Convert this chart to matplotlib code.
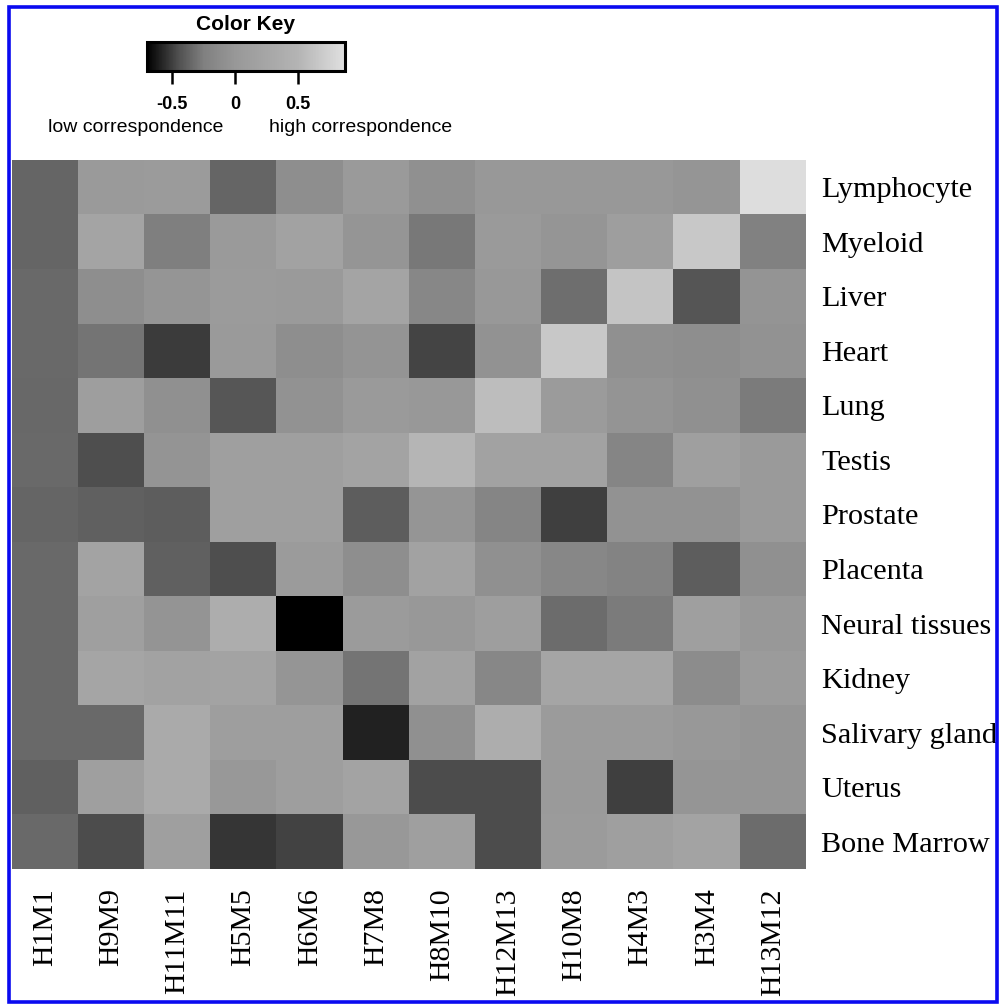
import numpy as np
import matplotlib
matplotlib.use("Agg")
import matplotlib.pyplot as plt
from matplotlib.colors import LinearSegmentedColormap, Normalize
from matplotlib.cm import ScalarMappable
from matplotlib.patches import Rectangle

tissues = ["Lymphocyte", "Myeloid", "Liver", "Heart", "Lung", "Testis", "Prostate",
           "Placenta", "Neural tissues", "Kidney", "Salivary gland", "Uterus", "Bone Marrow"]
modules = ["H1M1", "H9M9", "H11M11", "H5M5", "H6M6", "H7M8", "H8M10",
           "H12M13", "H10M8", "H4M3", "H3M4", "H13M12"]

lymphocyte = [-0.36, 0.04, 0.07, -0.36, -0.10, 0.04, -0.08, 0.00, 0.00, 0.00, -0.02, 0.84]
myeloid    = [-0.36, 0.23, -0.25, 0.04, 0.18, -0.03, -0.28, 0.04, -0.03, 0.11, 0.67, -0.23]
liver      = [-0.34, -0.10, -0.03, 0.07, 0.04, 0.23, -0.17, 0.00, -0.32, 0.64, -0.43, -0.04]
heart      = [-0.34, -0.30, -0.51, 0.04, -0.10, -0.04, -0.48, -0.06, 0.67, -0.08, -0.10, -0.06]
lung       = [-0.35, 0.11, -0.08, -0.42, -0.06, 0.04, 0.00, 0.58, 0.07, -0.04, -0.08, -0.27]
testis     = [-0.34, -0.45, -0.04, 0.14, 0.14, 0.21, 0.51, 0.18, 0.18, -0.19, 0.14, 0.04]
prostate   = [-0.36, -0.38, -0.39, 0.14, 0.14, -0.39, -0.02, -0.19, -0.50, -0.06, -0.06, 0.04]
placenta   = [-0.34, 0.21, -0.38, -0.45, 0.07, -0.10, 0.18, -0.08, -0.17, -0.21, -0.39, -0.08]
neural     = [-0.34, 0.14, -0.04, 0.39, -0.70, 0.07, 0.00, 0.11, -0.33, -0.27, 0.14, 0.00]
kidney     = [-0.34, 0.25, 0.18, 0.21, -0.02, -0.30, 0.18, -0.17, 0.25, 0.25, -0.12, 0.07]
salivary   = [-0.34, -0.34, 0.32, 0.11, 0.11, -0.59, -0.08, 0.39, 0.07, 0.07, 0.00, -0.02]
uterus     = [-0.38, 0.14, 0.32, 0.00, 0.11, 0.21, -0.46, -0.46, 0.04, -0.50, -0.02, -0.02]
bone_marrow = [-0.34, -0.46, 0.14, -0.53, -0.49, 0.00, 0.14, -0.46, 0.07, 0.14, 0.21, -0.33]

key_ticks = [-0.5, 0, 0.5]
key_ticklabels = ["-0.5", "0", "0.5"]

values = np.array([lymphocyte, myeloid, liver, heart, lung, testis, prostate,
                   placenta, neural, kidney, salivary, uterus, bone_marrow])

vmin, vmax = -0.70, 0.87
nodes = [(-0.70, 0), (-0.45, 80), (-0.25, 128), (0.00, 152), (0.50, 180), (0.87, 224)]
cmap = LinearSegmentedColormap.from_list(
    "key", [((v - vmin) / (vmax - vmin), (g / 255, g / 255, g / 255)) for v, g in nodes])
norm = Normalize(vmin=vmin, vmax=vmax)

W, H = 1003, 1006
fig = plt.figure(figsize=(W / 100, H / 100), dpi=100)

# Heatmap
ax = fig.add_axes([12 / W, (H - 869) / H, 794 / W, 709 / H])
ax.imshow(values, cmap=cmap, norm=norm, aspect="auto", interpolation="nearest")
ax.set_xticks(np.arange(len(modules)))
ax.set_xticklabels(modules, rotation=90, fontsize=21.5, family="Liberation Serif")
ax.set_yticks(np.arange(len(tissues)))
ax.set_yticklabels(tissues, fontsize=21.8, family="Liberation Serif")
ax.yaxis.tick_right()
ax.tick_params(axis="x", length=0, pad=14)
ax.tick_params(axis="y", length=0, pad=11)
for s in ax.spines.values():
    s.set_visible(False)

# Color key
cax = fig.add_axes([147 / W, (H - 71) / H, 198 / W, 29 / H])
cb = fig.colorbar(ScalarMappable(norm=norm, cmap=cmap), cax=cax, orientation="horizontal")
cb.set_ticks(key_ticks)
cb.set_ticklabels(key_ticklabels)
cb.outline.set_linewidth(2.2)
cax.tick_params(axis="x", length=9, width=1.8, pad=9, labelsize=13)
for lbl in cax.get_xticklabels():
    lbl.set_family("Liberation Sans")
    lbl.set_fontweight("bold")
fig.text(246 / W, 1 - 25 / H, "Color Key", ha="center", va="center",
         fontsize=15, fontweight="bold", family="Liberation Sans")
fig.text(136 / W, 1 - 127 / H, "low correspondence", ha="center", va="center",
         fontsize=14, family="Liberation Sans")
fig.text(361 / W, 1 - 127 / H, "high correspondence", ha="center", va="center",
         fontsize=14, family="Liberation Sans")

# Blue frame
fig.patches.append(Rectangle((9 / W, 4 / H), (997 - 9) / W, (999 - 4) / H,
                             transform=fig.transFigure, fill=False,
                             edgecolor="#0a0af0", linewidth=2.6))

fig.savefig("out.png", dpi=100, facecolor="white")
